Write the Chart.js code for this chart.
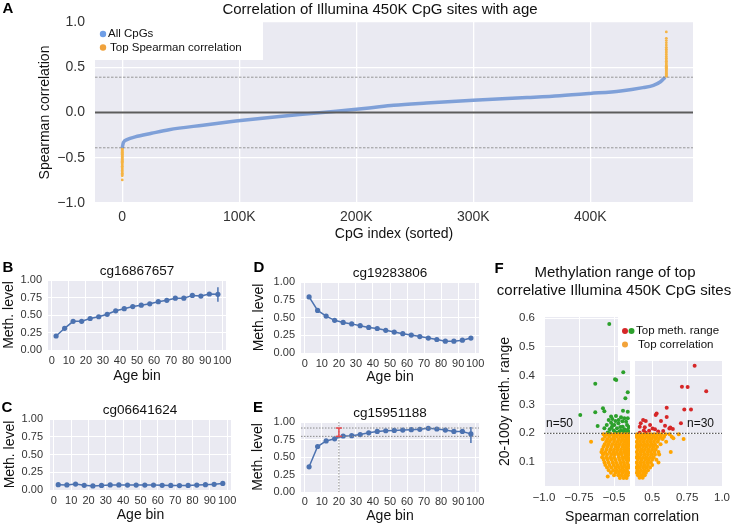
<!DOCTYPE html>
<html>
<head>
<meta charset="utf-8">
<title>Correlation of Illumina 450K CpG sites with age</title>
<script src="https://cdn.jsdelivr.net/npm/chart.js@4.4.1/dist/chart.umd.min.js"></script>
<style>
  html, body { margin: 0; padding: 0; background: #fff; overflow: hidden; }
  #fig { position: relative; width: 737px; height: 525px; }
  #fig canvas { position: absolute; left: 0; top: 0; }
</style>
</head>
<body>
<div id="fig">
  <canvas id="panelA" width="737" height="525"></canvas>
  <canvas id="panelB" width="737" height="525"></canvas>
  <canvas id="panelC" width="737" height="525"></canvas>
  <canvas id="panelD" width="737" height="525"></canvas>
  <canvas id="panelE" width="737" height="525"></canvas>
  <canvas id="panelFl" width="737" height="525"></canvas>
  <canvas id="panelFr" width="737" height="525"></canvas>
</div>
<script>
// ---- panel A: sorted Spearman correlation of all CpGs (index in thousands) ----
const aIndexK = [0, 1, 4, 11, 25, 40, 69, 97, 126, 154, 183, 211, 232, 260, 300, 346, 374, 400, 426, 445, 454, 460, 464];
const aCorr = [-0.39, -0.33, -0.30, -0.27, -0.23, -0.19, -0.14, -0.095, -0.055, -0.02, 0.015, 0.05, 0.08, 0.105, 0.135, 0.165, 0.185, 0.21, 0.238, 0.275, 0.30, 0.34, 0.39];
const aTopNegIndexK = 0;
const aTopNegCorr = [-0.39, -0.40, -0.41, -0.42, -0.43, -0.44, -0.45, -0.46, -0.47, -0.48, -0.49, -0.50, -0.51, -0.52, -0.53, -0.54, -0.55, -0.565, -0.58, -0.595, -0.61, -0.625, -0.64, -0.655, -0.67, -0.685, -0.70, -0.745];
const aTopPosIndexK = 465;
const aTopPosCorr = [0.40, 0.41, 0.42, 0.43, 0.44, 0.45, 0.46, 0.47, 0.48, 0.49, 0.50, 0.51, 0.52, 0.535, 0.55, 0.565, 0.58, 0.60, 0.62, 0.64, 0.66, 0.68, 0.70, 0.72, 0.745, 0.77, 0.795, 0.82, 0.89];
const aCutoffs = [-0.39, 0.39];
const aTicksX = [0, 100, 200, 300, 400];
const aTickLabelsX = ['0', '100K', '200K', '300K', '400K'];
const aTicksY = [-1, -0.5, 0, 0.5, 1];
const aTickLabelsY = ['\u22121.0', '\u22120.5', '0.0', '0.5', '1.0'];

// ---- panels B-E: mean methylation per age bin ----
const ageBins = [2.5, 7.5, 12.5, 17.5, 22.5, 27.5, 32.5, 37.5, 42.5, 47.5, 52.5, 57.5, 62.5, 67.5, 72.5, 77.5, 82.5, 87.5, 92.5, 97.5];
const bMeth = [0.20, 0.31, 0.41, 0.41, 0.45, 0.475, 0.51, 0.56, 0.59, 0.62, 0.64, 0.66, 0.69, 0.71, 0.74, 0.74, 0.78, 0.77, 0.80, 0.795];
const bLastErr = [0.69, 0.895];
const cMeth = [0.075, 0.072, 0.083, 0.066, 0.058, 0.064, 0.072, 0.072, 0.07, 0.07, 0.07, 0.069, 0.066, 0.065, 0.062, 0.065, 0.07, 0.075, 0.08, 0.092];
const dMeth = [0.79, 0.60, 0.52, 0.46, 0.43, 0.41, 0.385, 0.36, 0.345, 0.32, 0.295, 0.272, 0.253, 0.232, 0.21, 0.19, 0.167, 0.167, 0.18, 0.21];
const eMeth = [0.36, 0.65, 0.73, 0.76, 0.80, 0.805, 0.82, 0.845, 0.865, 0.875, 0.88, 0.885, 0.89, 0.895, 0.91, 0.90, 0.885, 0.865, 0.865, 0.83];
const eLastErr = [0.70, 0.93];
const eRefAge = 20;
const eRefRange = [0.795, 0.914];
const ageTicks = [0, 10, 20, 30, 40, 50, 60, 70, 80, 90, 100];
const ageTickLabels = ['0', '10', '20', '30', '40', '50', '60', '70', '80', '90', '100'];
const methTicks = [0, 0.25, 0.5, 0.75, 1];
const methTickLabels = ['0.00', '0.25', '0.50', '0.75', '1.00'];

// ---- panel F: methylation range vs correlation ----
const fRangeCut = 0.2;
const fGreenNeg = [[-0.534, 0.58], [-0.434, 0.412], [-0.493, 0.388], [-0.484, 0.385], [-0.634, 0.372], [-0.402, 0.343], [-0.419, 0.322], [-0.741, 0.264], [-0.634, 0.273], [-0.579, 0.287], [-0.569, 0.277], [-0.617, 0.225], [-0.436, 0.278], [-0.521, 0.258], [-0.512, 0.25], [-0.538, 0.246], [-0.486, 0.26], [-0.45, 0.256], [-0.426, 0.252], [-0.414, 0.24], [-0.552, 0.229], [-0.521, 0.237], [-0.498, 0.229], [-0.469, 0.235], [-0.438, 0.223], [-0.407, 0.229], [-0.569, 0.218], [-0.531, 0.214], [-0.502, 0.21], [-0.479, 0.218], [-0.45, 0.21], [-0.426, 0.214], [-0.402, 0.212], [-0.491, 0.204], [-0.462, 0.206], [-0.431, 0.206], [-0.517, 0.22], [-0.402, 0.252], [-0.467, 0.246], [-0.402, 0.275], [-0.545, 0.203], [-0.47, 0.202], [-0.415, 0.203], [-0.395, 0.205], [-0.395, 0.222], [-0.44, 0.242], [-0.49, 0.243], [-0.455, 0.222], [-0.51, 0.228], [-0.53, 0.2]];
const fRedPos = [[0.804, 0.435], [0.713, 0.362], [0.754, 0.361], [0.887, 0.346], [0.604, 0.289], [0.73, 0.283], [0.778, 0.283], [0.532, 0.269], [0.525, 0.264], [0.604, 0.257], [0.435, 0.246], [0.454, 0.243], [0.563, 0.243], [0.706, 0.235], [0.592, 0.226], [0.623, 0.217], [0.648, 0.215], [0.447, 0.221], [0.411, 0.223], [0.503, 0.217], [0.52, 0.214], [0.478, 0.209], [0.411, 0.202], [0.454, 0.202], [0.543, 0.206], [0.579, 0.208], [0.418, 0.235], [0.485, 0.229], [0.63, 0.22], [0.44, 0.21]];
// rows: [range, correlation, correlation, ...]
const fOrangeNegRows = [
  [0.197, -0.575, -0.55, -0.52, -0.495, -0.47, -0.445, -0.42, -0.40],
  [0.188, -0.565, -0.535, -0.505, -0.48, -0.455, -0.43, -0.41, -0.393],
  [0.179, -0.58, -0.548, -0.52, -0.497, -0.466, -0.44, -0.415, -0.398],
  [0.171, -0.664, -0.556, -0.53, -0.50, -0.475, -0.45, -0.425, -0.404, -0.39],
  [0.162, -0.567, -0.54, -0.512, -0.486, -0.46, -0.435, -0.41, -0.395],
  [0.153, -0.575, -0.548, -0.52, -0.49, -0.468, -0.44, -0.42, -0.40],
  [0.144, -0.584, -0.553, -0.525, -0.50, -0.475, -0.45, -0.426, -0.405, -0.39],
  [0.135, -0.59, -0.562, -0.532, -0.506, -0.48, -0.455, -0.43, -0.41, -0.395],
  [0.131, -0.581],
  [0.126, -0.578, -0.55, -0.52, -0.495, -0.47, -0.445, -0.418, -0.397],
  [0.117, -0.585, -0.556, -0.527, -0.50, -0.466, -0.44, -0.42, -0.40],
  [0.108, -0.574, -0.545, -0.516, -0.49, -0.462, -0.436, -0.41, -0.393],
  [0.099, -0.568, -0.54, -0.51, -0.485, -0.455, -0.43, -0.405],
  [0.090, -0.562, -0.532, -0.502, -0.476, -0.45, -0.424, -0.40],
  [0.081, -0.55, -0.52, -0.49, -0.465, -0.44, -0.415, -0.397],
  [0.072, -0.538, -0.506, -0.48, -0.455, -0.43, -0.408],
  [0.063, -0.522, -0.49, -0.465, -0.44, -0.415, -0.398],
  [0.054, -0.50, -0.47, -0.445, -0.42, -0.402],
  [0.050, -0.545],
  [0.045, -0.458, -0.432, -0.41]
];
const fOrangePosRows = [
  [0.197, 0.392, 0.415, 0.44, 0.465, 0.49, 0.515, 0.54, 0.565, 0.595, 0.625, 0.69],
  [0.188, 0.388, 0.41, 0.433, 0.458, 0.483, 0.508, 0.533, 0.558, 0.585, 0.64],
  [0.183, 0.652],
  [0.180, 0.398, 0.422, 0.447, 0.472, 0.497, 0.522, 0.548, 0.575, 0.725],
  [0.171, 0.39, 0.413, 0.438, 0.463, 0.488, 0.513, 0.54, 0.60],
  [0.162, 0.395, 0.42, 0.445, 0.47, 0.495, 0.52, 0.56],
  [0.153, 0.388, 0.41, 0.435, 0.46, 0.485, 0.51, 0.535],
  [0.144, 0.398, 0.423, 0.448, 0.473, 0.50, 0.525],
  [0.135, 0.39, 0.415, 0.44, 0.465, 0.49, 0.515, 0.545, 0.633],
  [0.126, 0.395, 0.42, 0.445, 0.47, 0.495, 0.52, 0.55],
  [0.117, 0.388, 0.41, 0.435, 0.46, 0.485, 0.51],
  [0.108, 0.398, 0.424, 0.45, 0.475, 0.50, 0.53],
  [0.099, 0.39, 0.415, 0.44, 0.465, 0.49, 0.545],
  [0.090, 0.395, 0.42, 0.445, 0.47, 0.50],
  [0.081, 0.388, 0.41, 0.435, 0.46, 0.485],
  [0.072, 0.395, 0.42, 0.445, 0.47],
  [0.063, 0.39, 0.41, 0.435, 0.455],
  [0.054, 0.398, 0.424, 0.447],
  [0.046, 0.41, 0.432]
];
const fTicksY = [0.1, 0.2, 0.3, 0.4, 0.5, 0.6];
const fTickLabelsY = ['0.1', '0.2', '0.3', '0.4', '0.5', '0.6'];
const fTicksNeg = [-1, -0.75, -0.5];
const fTickLabelsNeg = ['\u22121.0', '\u22120.75', '\u22120.5'];
const fTicksPos = [0.5, 0.75, 1];
const fTickLabelsPos = ['0.5', '0.75', '1.0'];

// ---------------------------------------------------------------
const W = 737, H = 525;
const FONT = "'Liberation Sans', Arial, sans-serif";
const INK = '#333333', TXT = '#111111', LINE = '#4c72b0';
Chart.defaults.font.family = FONT;
Chart.defaults.color = INK;

const fnt = (s, bold) => (bold ? 'bold ' : '') + s + 'px ' + FONT;
const pts = (xs, ys) => xs.map((x, i) => ({ x, y: ys[i] }));
const pairs = arr => arr.map(p => ({ x: p[0], y: p[1] }));
const rows = arr => arr.flatMap(r => r.slice(1).map(x => ({ x, y: r[0] })));

// extra drawing per canvas: background, reference lines, error bars, legends, titles
const decoConf = {};
function stroke(ctx, s, x1, y1, x2, y2) {
  ctx.beginPath();
  ctx.strokeStyle = s.c; ctx.lineWidth = s.w || 1; ctx.setLineDash(s.dash || []);
  ctx.moveTo(x1, y1); ctx.lineTo(x2, y2); ctx.stroke();
}
const deco = {
  id: 'deco',
  beforeDraw(chart) {
    const o = decoConf[chart.canvas.id] || {}, a = chart.chartArea, ctx = chart.ctx;
    if (!o.bg) return;
    ctx.save(); ctx.fillStyle = '#eaeaf2';
    ctx.fillRect(a.left, a.top, a.right - a.left, a.bottom - a.top); ctx.restore();
  },
  afterDatasetsDraw(chart) {
    const o = decoConf[chart.canvas.id] || {}, ctx = chart.ctx, a = chart.chartArea;
    const sx = chart.scales.x, sy = chart.scales.y;
    ctx.save();
    (o.hlines || []).forEach(l => {
      const y = sy.getPixelForValue(l.v);
      stroke(ctx, l, l.x1 !== undefined ? l.x1 : a.left, y, l.x2 !== undefined ? l.x2 : a.right, y);
    });
    (o.vlines || []).forEach(l => {
      const x = sx.getPixelForValue(l.v);
      stroke(ctx, l, x, a.top, x, a.bottom);
    });
    (o.errs || []).forEach(e => {
      const x = sx.getPixelForValue(e.x), y1 = sy.getPixelForValue(e.lo), y2 = sy.getPixelForValue(e.hi);
      stroke(ctx, e, x, y1, x, y2);
      if (e.cap) {
        stroke(ctx, e, x - e.cap, y1, x + e.cap, y1);
        stroke(ctx, e, x - e.cap, y2, x + e.cap, y2);
      }
    });
    (o.boxes || []).forEach(b => { ctx.fillStyle = '#ffffff'; ctx.fillRect(b.x, b.y, b.w, b.h); });
    ctx.restore();
  },
  afterDraw(chart) {
    const o = decoConf[chart.canvas.id] || {}, ctx = chart.ctx;
    ctx.save();
    (o.dots || []).forEach(d => {
      ctx.beginPath(); ctx.fillStyle = d.c; ctx.arc(d.x, d.y, d.r || 3, 0, Math.PI * 2); ctx.fill();
    });
    (o.texts || []).forEach(t => {
      ctx.font = t.f; ctx.fillStyle = t.c || TXT;
      ctx.textAlign = t.align || 'center'; ctx.textBaseline = 'middle';
      ctx.fillText(t.t, t.x, t.y);
    });
    ctx.restore();
  }
};
Chart.register(deco);

function axis(c) {
  return {
    type: 'linear', min: c.min, max: c.max,
    afterBuildTicks: s => { s.ticks = c.ticks.map(v => ({ value: v })); },
    afterFit: s => { if (s.isHorizontal()) s.height = c.size; else s.width = c.size; },
    grid: { color: '#ffffff', lineWidth: c.gw || 1, drawTicks: false },
    border: { display: false },
    ticks: {
      display: !!c.labels, padding: c.pad || 0, autoSkip: false, maxRotation: 0,
      font: { size: c.fs }, color: INK,
      callback: (v, i) => (c.labels ? c.labels[i] : '')
    },
    title: {
      display: !!c.title, text: c.title || '', color: TXT, font: { size: c.ts || 14 },
      padding: { top: c.tp || 0, bottom: c.tp || 0 }
    }
  };
}

// plot box in page pixels -> padding so the chart area lands exactly there
function layoutFor(b) {
  return { autoPadding: false, padding: { left: b.l - b.yw, top: b.t, right: W - b.r, bottom: H - b.b - b.xh } };
}

function makeChart(id, box, datasets, scales) {
  return new Chart(document.getElementById(id), {
    type: 'scatter',
    data: { datasets },
    options: {
      responsive: false, animation: false, events: [],
      layout: layoutFor(box),
      plugins: { legend: { display: false }, tooltip: { enabled: false } },
      scales
    }
  });
}

// ---------------- panel A ----------------
const boxA = { l: 95, t: 22, r: 693, b: 203, yw: 95, xh: 42 };
decoConf.panelA = {
  bg: true,
  hlines: [
    { v: 0, c: '#5c5c5c', w: 2.2 },
    { v: aCutoffs[0], c: '#808080', w: 0.8, dash: [2.5, 1.5] },
    { v: aCutoffs[1], c: '#808080', w: 0.8, dash: [2.5, 1.5] }
  ],
  boxes: [{ x: 92, y: 22, w: 171, h: 38 }],
  dots: [{ x: 103, y: 34, r: 3.2, c: '#6f9ee6' }, { x: 103, y: 47.5, r: 3.2, c: '#f0a23c' }],
  texts: [
    { t: 'A', x: 8, y: 9, f: fnt(15, true), c: '#000' },
    { t: 'Correlation of Illumina 450K CpG sites with age', x: 380, y: 10, f: fnt(15) },
    { t: 'All CpGs', x: 108, y: 34, f: fnt(11.5), align: 'left' },
    { t: 'Top Spearman correlation', x: 110, y: 47.5, f: fnt(11.5), align: 'left' }
  ]
};
makeChart('panelA', boxA, [
  {
    data: pts(aIndexK, aCorr), showLine: true, borderColor: '#7fa0d8', borderWidth: 3.5,
    pointRadius: 0, cubicInterpolationMode: 'monotone'
  },
  { data: aTopNegCorr.map(y => ({ x: aTopNegIndexK, y })), pointRadius: 1.4, backgroundColor: '#f5b445', borderWidth: 0 },
  { data: aTopPosCorr.map(y => ({ x: aTopPosIndexK, y })), pointRadius: 1.4, backgroundColor: '#f5b445', borderWidth: 0 }
], {
  x: axis({ min: -23.3, max: 487.8, ticks: aTicksX, labels: aTickLabelsX, size: boxA.xh, fs: 14, pad: 6, title: 'CpG index (sorted)', ts: 14, tp: 2, gw: 1.3 }),
  y: axis({ min: -1, max: 1, ticks: aTicksY, labels: aTickLabelsY, size: boxA.yw, fs: 14, pad: 10, title: 'Spearman correlation', ts: 14, tp: 37, gw: 1.3 })
});

// ---------------- panels B-E ----------------
function agePanel(id, box, meth, extra, tx, ty) {
  decoConf[id] = Object.assign({ bg: true }, extra);
  makeChart(id, box, [{
    data: pts(ageBins, meth), showLine: true, borderColor: LINE, borderWidth: 1.5,
    pointRadius: 2.6, pointBackgroundColor: LINE, pointBorderWidth: 0
  }], {
    x: axis({ min: -2.25, max: 102.25, ticks: ageTicks, labels: ageTickLabels, size: box.xh, fs: 11, pad: tx.pad, title: 'Age bin', ts: 14, tp: tx.tp }),
    y: axis({ min: 0, max: 1, ticks: methTicks, labels: methTickLabels, size: box.yw, fs: 11, pad: ty.pad, title: 'Meth. level', ts: 14, tp: ty.tp })
  });
}

agePanel('panelB', { l: 48, t: 280, r: 226, b: 350, yw: 48, xh: 36 }, bMeth, {
  errs: [{ x: ageBins[ageBins.length - 1], lo: bLastErr[0], hi: bLastErr[1], c: LINE, w: 1.5 }],
  texts: [
    { t: 'B', x: 8, y: 268, f: fnt(15, true), c: '#000' },
    { t: 'cg16867657', x: 137, y: 271, f: fnt(13.5) }
  ]
}, { pad: 4, tp: 1 }, { pad: 6, tp: 1 });

agePanel('panelC', { l: 50, t: 419, r: 231, b: 490, yw: 50, xh: 35 }, cMeth, {
  texts: [
    { t: 'C', x: 7, y: 408, f: fnt(15, true), c: '#000' },
    { t: 'cg06641624', x: 140, y: 410, f: fnt(13.5) }
  ]
}, { pad: 4, tp: 1 }, { pad: 7, tp: 2 });

agePanel('panelD', { l: 301, t: 282, r: 479, b: 353, yw: 51, xh: 36 }, dMeth, {
  texts: [
    { t: 'D', x: 259, y: 268, f: fnt(15, true), c: '#000' },
    { t: 'cg19283806', x: 390, y: 273, f: fnt(13.5) }
  ]
}, { pad: 4, tp: 3 }, { pad: 6, tp: 1 });

agePanel('panelE', { l: 301, t: 422, r: 479, b: 492, yw: 51, xh: 33 }, eMeth, {
  hlines: [
    { v: eRefRange[0], c: '#8a8a8a', w: 1, dash: [1.5, 1.5] },
    { v: eRefRange[1], c: '#8a8a8a', w: 1, dash: [1.5, 1.5] }
  ],
  vlines: [{ v: eRefAge, c: '#8a8a8a', w: 1, dash: [1.5, 1.5] }],
  errs: [
    { x: eRefAge, lo: eRefRange[0], hi: eRefRange[1], c: '#e8474c', w: 1.5, cap: 3 },
    { x: ageBins[ageBins.length - 1], lo: eLastErr[0], hi: eLastErr[1], c: LINE, w: 1.5 }
  ],
  texts: [
    { t: 'E', x: 258, y: 408, f: fnt(15, true), c: '#000' },
    { t: 'cg15951188', x: 390, y: 413, f: fnt(13.5) }
  ]
}, { pad: 3, tp: 0 }, { pad: 6, tp: 0 });

// ---------------- panel F (broken x axis) ----------------
const boxFl = { l: 544, t: 317, r: 630, b: 486, yw: 54, xh: 20 };
const boxFr = { l: 635, t: 317, r: 722, b: 486, yw: 0, xh: 20 };
const fY = { min: 0.017, max: 0.604, ticks: fTicksY };

decoConf.panelFl = { bg: true };
makeChart('panelFl', boxFl, [
  { data: rows(fOrangeNegRows), pointRadius: 2, backgroundColor: '#ffa500', borderWidth: 0 },
  { data: pairs(fGreenNeg), pointRadius: 2, backgroundColor: '#2ca02c', borderWidth: 0 }
], {
  x: axis({ min: -1.0, max: -0.386, ticks: fTicksNeg, labels: fTickLabelsNeg, size: boxFl.xh, fs: 11.5, pad: 5 }),
  y: axis(Object.assign({ labels: fTickLabelsY, size: boxFl.yw, fs: 11.5, pad: 9, title: '20-100y meth. range', ts: 14, tp: 6.6 }, fY))
});

decoConf.panelFr = {
  bg: true,
  hlines: [{ v: fRangeCut, c: '#3a3a3a', w: 1, dash: [1.5, 1.5], x1: 544, x2: 722 }],
  boxes: [{ x: 618, y: 317, w: 119, h: 44 }],
  dots: [
    { x: 625, y: 331, r: 3, c: '#d62728' }, { x: 631.5, y: 331, r: 3, c: '#2ca02c' },
    { x: 625, y: 344.5, r: 3, c: '#f2a33a' }
  ],
  texts: [
    { t: 'F', x: 499, y: 269, f: fnt(15, true), c: '#000' },
    { t: 'Methylation range of top', x: 615, y: 273, f: fnt(15) },
    { t: 'correlative Illumina 450K CpG sites', x: 614, y: 291, f: fnt(15) },
    { t: 'Spearman correlation', x: 632, y: 517, f: fnt(14) },
    { t: 'n=50', x: 546, y: 424, f: fnt(12), align: 'left' },
    { t: 'n=30', x: 687, y: 424, f: fnt(12), align: 'left' },
    { t: 'Top meth. range', x: 636, y: 331, f: fnt(11.5), align: 'left' },
    { t: 'Top correlation', x: 638, y: 344.5, f: fnt(11.5), align: 'left' }
  ]
};
makeChart('panelFr', boxFr, [
  { data: rows(fOrangePosRows), pointRadius: 2, backgroundColor: '#ffa500', borderWidth: 0 },
  { data: pairs(fRedPos), pointRadius: 2, backgroundColor: '#d62728', borderWidth: 0 }
], {
  x: axis({ min: 0.377, max: 1.0, ticks: fTicksPos, labels: fTickLabelsPos, size: boxFr.xh, fs: 11.5, pad: 5 }),
  y: axis(Object.assign({ size: 0, fs: 11.5 }, fY))
});
</script>
</body>
</html>
